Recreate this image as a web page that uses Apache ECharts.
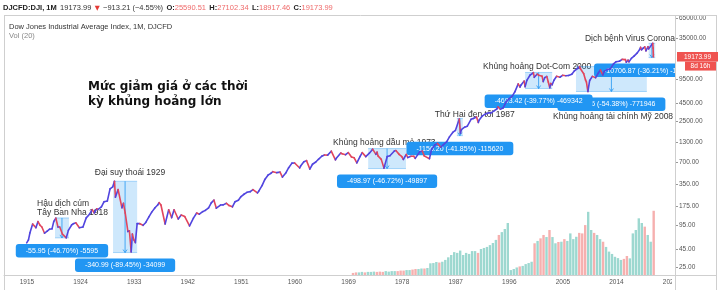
<!DOCTYPE html>
<html>
<head>
<meta charset="utf-8">
<script src="https://cdn.jsdelivr.net/npm/echarts@6/dist/echarts.min.js"></script>
<style>
  html, body {margin: 0; padding: 0; background: #fff;}
  #chart {width: 721px; height: 290px;}
</style>
</head>
<body>
<div id="chart"></div>
<script>
// monthly-ish closes (decimal year, index value)
const priceYears = [
  1914.95, 1915.25, 1915.5, 1915.95, 1916.25, 1916.5, 1916.85, 1917.2, 1917.5, 1917.95,
  1918.4, 1918.8, 1919.2, 1919.5, 1919.85, 1920.2, 1920.5, 1920.95, 1921.6, 1921.95,
  1922.5, 1922.8, 1923.2, 1923.8, 1924.4, 1924.95, 1925.5, 1925.95, 1926.3, 1926.7,
  1926.95, 1927.5, 1927.95, 1928.5, 1928.95, 1929.4, 1929.7, 1929.85, 1930.3, 1930.95,
  1931.2, 1931.5, 1931.95, 1932.2, 1932.5, 1932.7, 1932.95, 1933.2, 1933.5, 1933.95,
  1934.5, 1934.95, 1935.5, 1935.95, 1936.5, 1936.95, 1937.2, 1937.5, 1938.2, 1938.8,
  1939.3, 1939.7, 1940.4, 1940.9, 1941.5, 1942.3, 1942.95, 1943.5, 1943.95, 1944.5,
  1944.95, 1945.5, 1945.95, 1946.4, 1946.8, 1947.5, 1947.95, 1948.5, 1948.95, 1949.5,
  1949.95, 1950.5, 1950.95, 1951.5, 1951.95, 1952.5, 1952.95, 1953.7, 1953.95, 1954.5,
  1954.95, 1955.5, 1955.95, 1956.3, 1956.95, 1957.5, 1957.9, 1958.5, 1958.95, 1959.5,
  1959.95, 1960.8, 1960.95, 1961.5, 1961.95, 1962.5, 1962.95, 1963.5, 1963.95, 1964.5,
  1964.95, 1965.5, 1966.1, 1966.8, 1966.95, 1967.7, 1967.95, 1968.5, 1968.95, 1969.5,
  1969.95, 1970.4, 1970.95, 1971.3, 1971.9, 1972.5, 1972.95, 1973.05, 1973.6, 1973.8,
  1973.95, 1974.5, 1974.95, 1975.5, 1975.95, 1976.7, 1976.95, 1977.5, 1977.95, 1978.2,
  1978.7, 1978.95, 1979.5, 1979.95, 1980.2, 1980.95, 1981.4, 1981.7, 1982.6, 1982.95,
  1983.5, 1983.95, 1984.5, 1984.95, 1985.5, 1985.95, 1986.5, 1986.95, 1987.6, 1987.8,
  1987.95, 1988.5, 1988.95, 1989.6, 1989.95, 1990.5, 1990.8, 1990.95, 1991.5, 1991.95,
  1992.5, 1992.95, 1993.5, 1993.95, 1994.1, 1994.5, 1994.95, 1995.5, 1995.95, 1996.5,
  1996.95, 1997.5, 1997.8, 1997.95, 1998.5, 1998.65, 1998.95, 1999.5, 1999.95, 2000.05,
  2000.2, 2000.7, 2000.95, 2001.5, 2001.7, 2001.95, 2002.3, 2002.55, 2002.8, 2002.95,
  2003.2, 2003.5, 2003.95, 2004.5, 2004.95, 2005.5, 2005.95, 2006.5, 2006.95, 2007.5,
  2007.8, 2007.95, 2008.5, 2008.8, 2008.95, 2009.2, 2009.5, 2009.95, 2010.5, 2010.95,
  2011.3, 2011.7, 2011.95, 2012.5, 2012.95, 2013.5, 2013.95, 2014.5, 2014.95, 2015.5,
  2015.65, 2015.95, 2016.1, 2016.5, 2016.95, 2017.5, 2017.95, 2018.05, 2018.2, 2018.5,
  2018.75, 2018.95, 2019.3, 2019.4, 2019.95, 2020.1, 2020.15, 2020.2
];
const priceValues = [
  54.6, 60, 75, 99, 93, 88, 107, 95, 90, 74,
  79, 84, 85, 107, 119, 90, 90, 72, 64, 81,
  96, 100, 103, 88, 90, 120, 135, 156, 140, 160,
  157, 170, 200, 205, 300, 320, 381, 230, 294, 165,
  190, 140, 78, 80, 41, 72, 60, 55, 100, 100,
  95, 104, 125, 144, 165, 180, 194, 180, 99, 155,
  121, 155, 116, 131, 125, 93, 119, 140, 135, 146,
  152, 165, 193, 210, 163, 180, 181, 190, 177, 170,
  200, 210, 235, 255, 269, 275, 292, 264, 281, 335,
  404, 465, 488, 516, 500, 508, 435, 500, 584, 675,
  679, 580, 615, 705, 731, 560, 652, 700, 762, 840,
  874, 870, 985, 750, 785, 930, 905, 880, 943, 820,
  800, 680, 838, 940, 830, 925, 1020, 1051, 890, 956,
  850, 760, 577, 830, 852, 990, 1004, 890, 831, 757,
  890, 805, 840, 838, 785, 964, 990, 850, 777, 1046,
  1200, 1258, 1115, 1211, 1330, 1546, 1780, 1895, 2722, 1738,
  1938, 2100, 2168, 2700, 2753, 2900, 2442, 2633, 3000, 3168,
  3300, 3301, 3540, 3754, 3978, 3700, 3834, 4700, 5117, 5600,
  6448, 8222, 7442, 7908, 9000, 7539, 9181, 10900, 11497, 11723,
  10128, 11215, 10787, 10500, 8847, 10021, 10400, 8736, 7286, 8341,
  7992, 9233, 10453, 10140, 10783, 10641, 10717, 11185, 12463, 13400,
  14198, 13264, 11350, 9325, 8776, 6470, 9171, 10428, 10000, 11578,
  12810, 10913, 12218, 13000, 13104, 15500, 16577, 16800, 17823, 17690,
  16285, 17425, 16466, 18432, 19763, 21891, 24719, 26149, 24103, 25415,
  26458, 23327, 26593, 24815, 28538, 29551, 25409, 19173.99
];

// half-year volume, relative units, starting mid 1969
const volumeStart = 1969.5;
const volumeValues = [
  0.8, 1.0, 1.0, 1.2, 1.0, 1.2, 1.2, 1.3, 1.2, 1.3,
  1.2, 1.5, 1.3, 1.5, 1.5, 1.5, 1.7, 1.7, 1.9, 1.9,
  2.1, 2.3, 2.3, 2.5, 2.5, 2.7, 4.5, 4.6, 5.0, 4.8,
  5.1, 5.8, 6.8, 7.7, 8.8, 8.5, 9.4, 7.7, 8.5, 8.1,
  9.2, 9.2, 8.5, 10.0, 10.4, 10.8, 11.5, 12.3, 13.5, 15.4,
  16.5, 17.7, 20.0, 1.9, 2.3, 2.9, 3.3, 3.5, 4.2, 4.6,
  5.1, 12.2, 13.1, 14.1, 15.4, 14.6, 17.3, 14.6, 12.2, 12.7,
  12.8, 13.8, 13.1, 16.0, 13.8, 14.7, 16.2, 16.0, 19.2, 24.3,
  17.3, 16.2, 15.4, 13.8, 12.8, 10.8, 9.0, 8.1, 7.0, 6.5,
  5.8, 6.2, 7.3, 6.4, 16.0, 17.3, 21.8, 20.0, 18.6, 15.4,
  12.8, 24.7
];

const xTicks = [1915, 1924, 1933, 1942, 1951, 1960, 1969, 1978, 1987, 1996, 2005, 2014, 2023];
const yTicks = [25, 45, 95, 175, 350, 700, 1300, 2500, 4500, 9500, 35000, 65000];

// measured ranges: start year, end year, high, low
const crisisStart = [1919.7, 1929.45, 1972.3, 1987.2, 2007.2, 1998.65, 2019.4];
const crisisEnd = [1922.05, 1933.5, 1978.65, 1988.2, 2019.1, 2003.2, 2020.5];
const crisisHigh = [119.8, 381.2, 1068, 2762.7, 14195, 11801, 29569];
const crisisLow = [63.85, 40.2, 569, 1606.5, 6476, 7108, 18862];
const crisisLabels = [
  '-55.95 (-46.70%) -5595',
  '-340.99 (-89.45%) -34099',
  '-498.97 (-46.72%) -49897',
  '-1156.20 (-41.85%) -115620',
  '-7719.46 (-54.38%) -771946',
  '-4693.42 (-39.77%) -469342',
  '-10706.87 (-36.21%) -1070687'
];

const noteTexts = [
  'Hậu dịch cúm\nTây Ban Nha 1918',
  'Đại suy thoái 1929',
  'Khủng hoảng dầu mỏ 1973',
  'Thứ Hai đen tối 1987',
  'Khủng hoảng Dot-Com 2000',
  'Khủng hoảng tài chính Mỹ 2008',
  'Dịch bệnh Virus Corona'
];
const noteYears = [1916.7, 1926.4, 1966.4, 1983.5, 1991.6, 2003.35, 2008.7];
const notePrices = [164, 495, 1276, 3084, 14025, 2897, 33900];

const upColor = '#5145df';
const downColor = '#e2455c';
const rangeBlue = '#2196f3';
const frameColor = '#cfcfcf';
const font = '"Liberation Sans", Arial, sans-serif';

const segments = [];
for (let i = 1; i < priceYears.length; i++) {
  segments.push([priceYears[i - 1], priceValues[i - 1], priceYears[i], priceValues[i]]);
}

const priceAt = (t) => {
  let best = 0;
  for (let i = 0; i < priceYears.length; i++) {
    if (priceYears[i] <= t) best = i;
  }
  return priceValues[best];
};

const volumeData = volumeValues.map((v, i) => {
  const t = volumeStart + i / 2;
  const up = priceAt(t + 0.5) >= priceAt(t);
  return {value: [t + 0.25, v], itemStyle: {color: up ? '#9dd8d0' : '#f6b0af'}};
});

const crisisData = crisisStart.map((s, i) => [s, crisisEnd[i], crisisHigh[i], crisisLow[i]]);
const noteData = noteYears.map((y, i) => [y, notePrices[i]]);

const chart = echarts.init(document.getElementById('chart'));

const line = (id, x1, y1, x2, y2) => ({
  id, type: 'line', z: 120, silent: true,
  shape: {x1, y1, x2, y2},
  style: {stroke: frameColor, lineWidth: 1}
});

const graphics = [
  {id: 'cover', type: 'rect', z: 110, shape: {x: 672, y: 277, width: 44, height: 13}, style: {fill: '#fff'}},
  line('top', 4, 15.5, 717, 15.5),
  line('left', 4.5, 15, 4.5, 290),
  line('right', 716.5, 15, 716.5, 290),
  line('bottom', 4, 275.5, 717, 275.5),
  line('axis', 675.5, 15, 675.5, 290),
  {
    id: 'header', type: 'text', z: 120, left: 3, top: 2,
    style: {
      text: '{b|DJCFD:DJI, 1M} {n|19173.99} {r|▼} {n|−913.21 (−4.55%)} {b|O:}{v|25590.51} {b|H:}{v|27102.34} {b|L:}{v|18917.46} {b|C:}{v|19173.99}',
      rich: {
        b: {fontFamily: font, fontSize: 7.5, fontWeight: 'bold', fill: '#222'},
        n: {fontFamily: font, fontSize: 7.5, fill: '#333'},
        r: {fontFamily: '"DejaVu Sans", sans-serif', fontSize: 6.5, fill: '#e53935'},
        v: {fontFamily: font, fontSize: 7.5, fill: '#ef6a6a'}
      }
    }
  },
  {
    id: 'legend', type: 'text', z: 120, left: 9, top: 23,
    style: {text: 'Dow Jones Industrial Average Index, 1M, DJCFD', fontFamily: font, fontSize: 7.5, fill: '#333'}
  },
  {
    id: 'vol', type: 'text', z: 120, left: 9, top: 32,
    style: {text: 'Vol (20)', fontFamily: font, fontSize: 7.5, fill: '#888'}
  },
  {
    id: 'title', type: 'text', z: 120, left: 88, top: 79,
    style: {
      text: 'Mức giảm giá ở các thời\nkỳ khủng hoảng lớn',
      fontFamily: '"DejaVu Sans", sans-serif', fontSize: 12, fontWeight: 'bold',
      lineHeight: 15, fill: '#111'
    }
  }
];

chart.setOption({
  animation: false,
  backgroundColor: '#fff',
  grid: {left: 4, right: 46, top: 15, bottom: 15},
  xAxis: {
    type: 'value', min: 1911.14, max: 2023.83,
    axisLine: {show: true, lineStyle: {color: frameColor}},
    axisTick: {show: false},
    splitLine: {show: false},
    axisLabel: {
      customValues: xTicks, color: '#555', fontSize: 6.5, fontFamily: font, margin: 4,
      formatter: (v) => String(Math.round(v))
    }
  },
  yAxis: [
    {
      type: 'log', logBase: 10, position: 'right', min: 19.8, max: 72300,
      axisLine: {show: false},
      axisTick: {show: true, length: 3, customValues: yTicks, lineStyle: {color: '#999'}},
      splitLine: {show: false},
      axisLabel: {
        customValues: yTicks, color: '#555', fontSize: 6.5, fontFamily: font, margin: 4,
        formatter: (v) => Number(v).toFixed(2)
      }
    },
    {type: 'value', min: 0, max: 100, show: false}
  ],
  series: [
    {
      type: 'bar', yAxisIndex: 1, z: 1, barWidth: 2.4,
      data: volumeData
    },
    {
      type: 'custom', z: 2, clip: true, silent: true,
      data: noteData,
      encode: {x: 0, y: 1},
      renderItem: (params, api) => {
        const p = api.coord([api.value(0), api.value(1)]);
        return {
          type: 'text', x: p[0], y: p[1],
          style: {
            text: noteTexts[params.dataIndex], fill: '#333', font: '8.5px ' + font,
            align: 'left', verticalAlign: 'middle', lineHeight: 9
          }
        };
      }
    },
    {
      type: 'custom', z: 3, clip: true, silent: true,
      data: crisisData,
      encode: {x: [0, 1], y: [2, 3]},
      renderItem: (params, api) => {
        const a = api.coord([api.value(0), api.value(2)]);
        const b = api.coord([api.value(1), api.value(3)]);
        const cx = (a[0] + b[0]) / 2;
        return {
          type: 'group',
          children: [
            {type: 'rect', shape: {x: a[0], y: a[1], width: b[0] - a[0], height: b[1] - a[1]},
              style: {fill: 'rgba(33,150,243,0.22)'}},
            {type: 'line', shape: {x1: a[0], y1: a[1], x2: b[0], y2: a[1]},
              style: {stroke: 'rgba(33,150,243,0.45)', lineWidth: 0.8}},
            {type: 'line', shape: {x1: a[0], y1: b[1], x2: b[0], y2: b[1]},
              style: {stroke: 'rgba(33,150,243,0.45)', lineWidth: 0.8}},
            {type: 'line', shape: {x1: cx, y1: a[1], x2: cx, y2: b[1]},
              style: {stroke: rangeBlue, lineWidth: 0.8}},
            {type: 'polyline', shape: {points: [[cx - 2, b[1] - 3], [cx, b[1]], [cx + 2, b[1] - 3]]},
              style: {stroke: rangeBlue, fill: 'none', lineWidth: 0.8}},
            {type: 'text', x: cx, y: b[1] + 6,
              style: {
                text: crisisLabels[params.dataIndex], fill: '#fff', font: '7px ' + font,
                align: 'center', verticalAlign: 'top',
                backgroundColor: rangeBlue, padding: [3.5, 10, 3, 10], borderRadius: 3
              }}
          ]
        };
      }
    },
    {
      type: 'custom', z: 4, clip: true, silent: true,
      data: segments,
      encode: {x: [0, 2], y: [1, 3]},
      renderItem: (params, api) => {
        const a = api.coord([api.value(0), api.value(1)]);
        const b = api.coord([api.value(2), api.value(3)]);
        return {
          type: 'line',
          shape: {x1: a[0], y1: a[1], x2: b[0], y2: b[1]},
          style: {stroke: api.value(3) < api.value(1) ? downColor : upColor, lineWidth: 1.6, lineCap: 'round'}
        };
      }
    }
  ],
  graphic: graphics
});

// last price tags on the price scale
const lastPrice = priceValues[priceValues.length - 1];
const tagY = chart.convertToPixel({yAxisIndex: 0}, lastPrice);
chart.setOption({
  graphic: [
    {id: 'tag1', type: 'rect', z: 130, shape: {x: 677, y: tagY - 5, width: 41, height: 9.5}, style: {fill: '#ef5350'}},
    {id: 'tag1t', type: 'text', z: 131, x: 697.5, y: tagY,
      style: {text: lastPrice.toFixed(2), fill: '#fff', fontFamily: font, fontSize: 6.5, align: 'center', verticalAlign: 'middle'}},
    {id: 'tag2', type: 'rect', z: 130, shape: {x: 685, y: tagY + 4.5, width: 31, height: 9}, style: {fill: '#ef5350'}},
    {id: 'tag2t', type: 'text', z: 131, x: 700.5, y: tagY + 9,
      style: {text: '8d 16h', fill: '#fff', fontFamily: font, fontSize: 6.5, align: 'center', verticalAlign: 'middle'}}
  ]
});
</script>
</body>
</html>
